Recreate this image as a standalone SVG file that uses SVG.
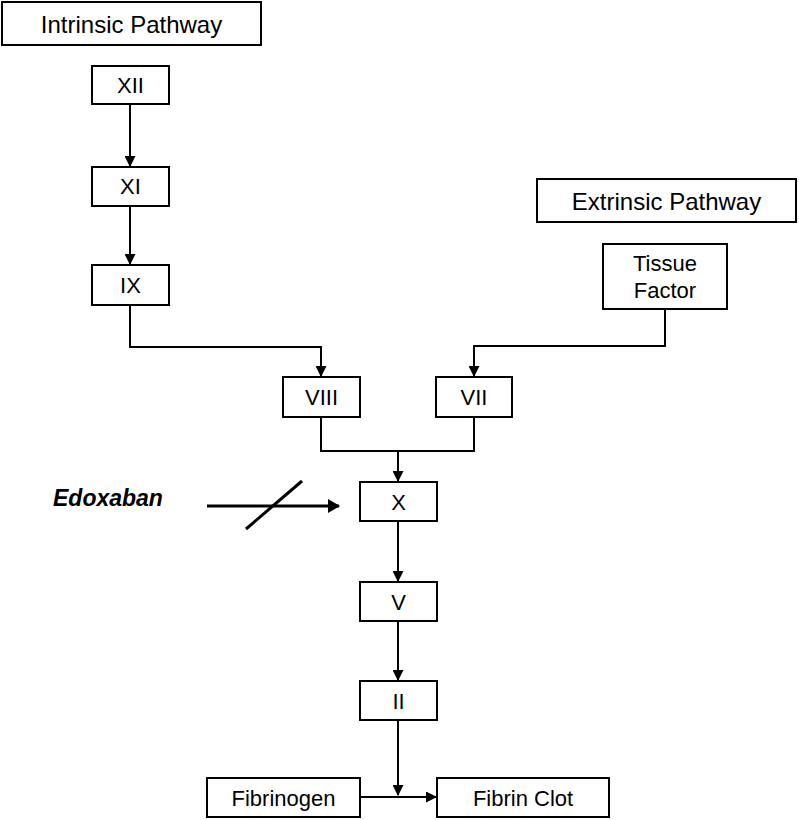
<svg xmlns="http://www.w3.org/2000/svg" width="799" height="820" viewBox="0 0 799 820">
<style>
.box{fill:#fff;stroke:#000;stroke-width:2}
.t{font-family:"Liberation Sans",Arial,sans-serif;font-size:22px;fill:#000;text-anchor:middle}
.h{font-size:24px}
.c{fill:none;stroke:#000;stroke-width:2}
</style>
<defs>
<marker id="ah" markerUnits="userSpaceOnUse" markerWidth="11" markerHeight="11" refX="10" refY="5.5" orient="auto">
<path d="M0,0 L11,5.5 L0,11 z" fill="#000"/>
</marker>
<marker id="ahb" markerUnits="userSpaceOnUse" markerWidth="12" markerHeight="14" refX="11" refY="7" orient="auto">
<path d="M0,0 L12,7 L0,14 z" fill="#000"/>
</marker>
</defs>
<rect width="799" height="820" fill="#fff"/>
<g id="connectors">
<path class="c" d="M130,104 V166" marker-end="url(#ah)"/>
<path class="c" d="M130,206 V264" marker-end="url(#ah)"/>
<path class="c" d="M130,305 V347 H321 V376" marker-end="url(#ah)"/>
<path class="c" d="M665,309 V346 H474 V376" marker-end="url(#ah)"/>
<path class="c" d="M321,417 V451 H474 V417"/>
<path class="c" d="M398,451 V481" marker-end="url(#ah)"/>
<path class="c" d="M398,521 V581" marker-end="url(#ah)"/>
<path class="c" d="M398,621 V680" marker-end="url(#ah)"/>
<path class="c" d="M398,720 V795" marker-end="url(#ah)"/>
<path class="c" d="M360,797 H436" marker-end="url(#ah)"/>
<path d="M207,506 H339" fill="none" stroke="#000" stroke-width="3" marker-end="url(#ahb)"/>
<path d="M246,529 L302,481" fill="none" stroke="#000" stroke-width="3"/>
</g>
<g id="intrinsic">
<rect class="box" x="2" y="2" width="259" height="43"/>
<text class="t h" x="131.5" y="33">Intrinsic Pathway</text>
</g>
<g id="extrinsic">
<rect class="box" x="537" y="179" width="259" height="43"/>
<text class="t h" x="666.5" y="210">Extrinsic Pathway</text>
</g>
<g id="xii">
<rect class="box" x="92" y="66" width="77" height="38"/>
<text class="t" x="130.5" y="93">XII</text>
</g>
<g id="xi">
<rect class="box" x="92" y="167" width="77" height="39"/>
<text class="t" x="130.5" y="194">XI</text>
</g>
<g id="ix">
<rect class="box" x="92" y="265" width="77" height="40"/>
<text class="t" x="130.5" y="293">IX</text>
</g>
<g id="tissue-factor">
<rect class="box" x="603" y="244" width="124" height="65"/>
<text class="t" x="665" y="271">Tissue</text>
<text class="t" x="665" y="298">Factor</text>
</g>
<g id="viii">
<rect class="box" x="283" y="377" width="77" height="40"/>
<text class="t" x="321.5" y="405">VIII</text>
</g>
<g id="vii">
<rect class="box" x="436" y="377" width="76" height="40"/>
<text class="t" x="474" y="405">VII</text>
</g>
<g id="edoxaban">
<text x="53" y="506" style="font-family:'Liberation Sans',Arial,sans-serif;font-size:23px;font-weight:bold;font-style:italic">Edoxaban</text>
</g>
<g id="x">
<rect class="box" x="360" y="482" width="77" height="39"/>
<text class="t" x="398.5" y="510">X</text>
</g>
<g id="v">
<rect class="box" x="360" y="582" width="77" height="39"/>
<text class="t" x="398.5" y="610">V</text>
</g>
<g id="ii">
<rect class="box" x="360" y="681" width="77" height="39"/>
<text class="t" x="398.5" y="709">II</text>
</g>
<g id="fibrinogen">
<rect class="box" x="207" y="778" width="153" height="39"/>
<text class="t" x="283.5" y="806">Fibrinogen</text>
</g>
<g id="fibrin-clot">
<rect class="box" x="437" y="778" width="172" height="39"/>
<text class="t" x="523" y="806">Fibrin Clot</text>
</g>
</svg>
